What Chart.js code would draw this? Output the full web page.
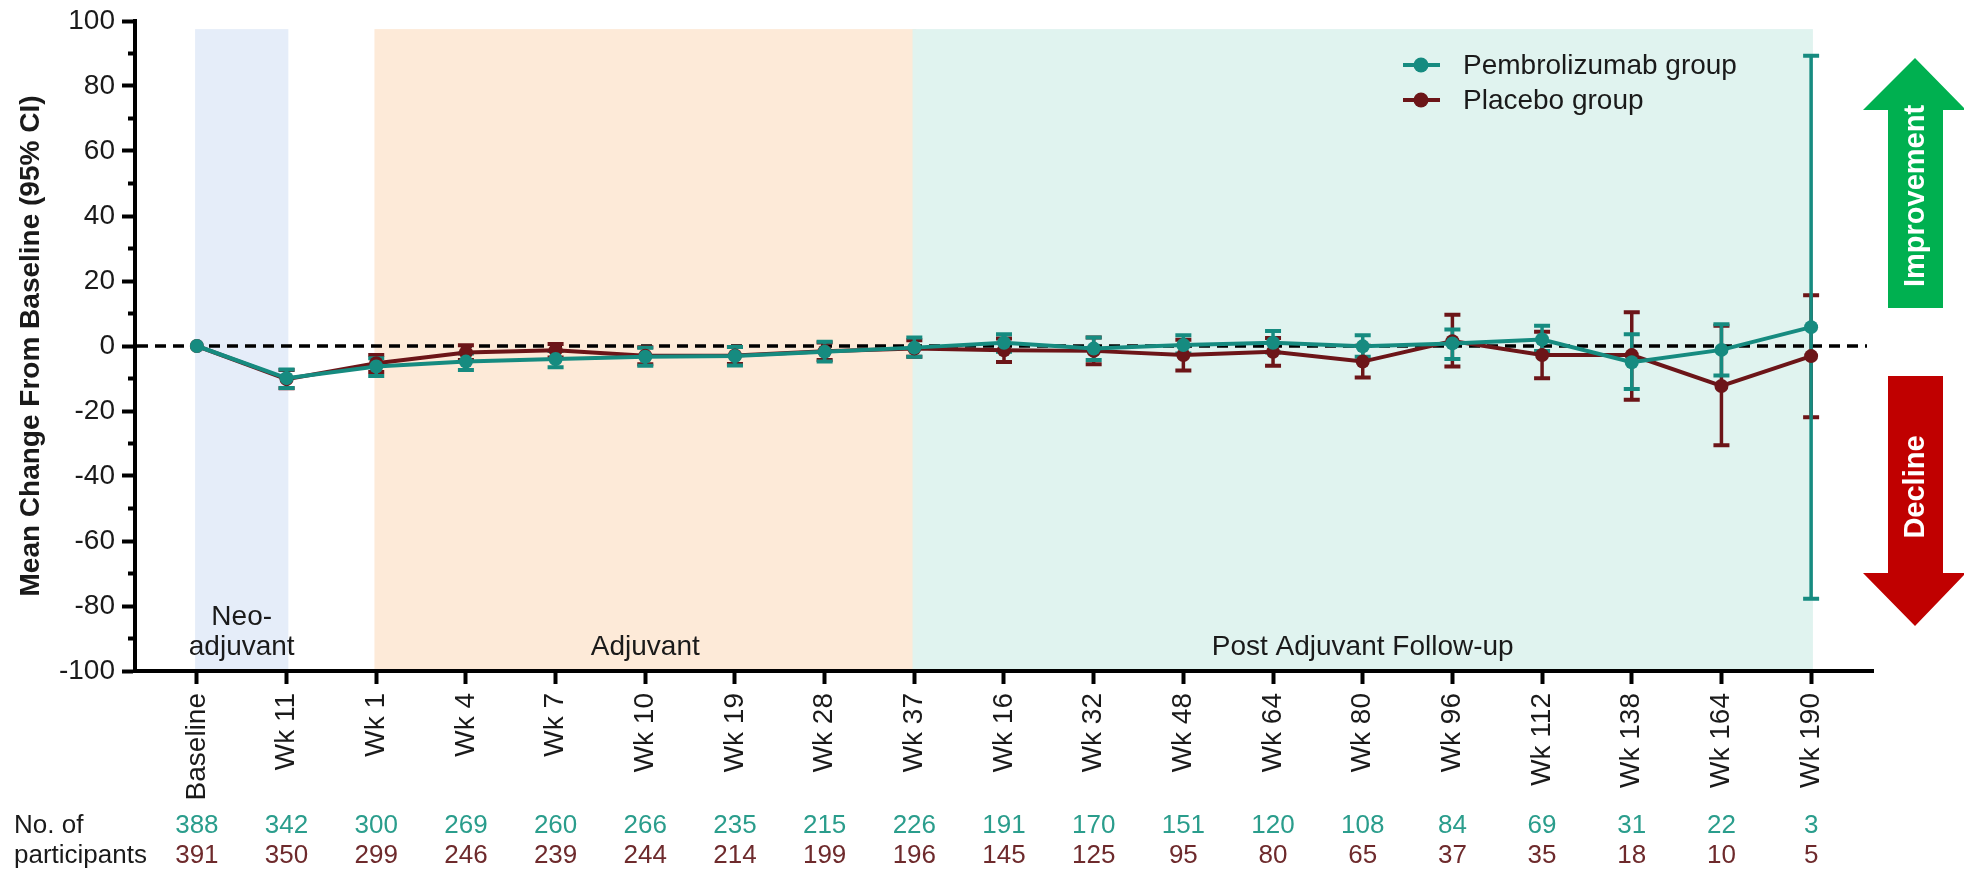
<!DOCTYPE html>
<html>
<head>
<meta charset="utf-8">
<title>Mean change from baseline</title>
<script src="https://cdn.jsdelivr.net/npm/chart.js@4.4.1/dist/chart.umd.min.js"></script>
<style>
  html, body { margin: 0; padding: 0; background: #fff; }
  #wrap { width: 1964px; height: 873px; }
</style>
</head>
<body>
<div id="wrap"><canvas id="chart" width="1964" height="873"></canvas></div>
<script>
// time points along the x axis
const weekLabels = ["Baseline", "Wk 11", "Wk 1", "Wk 4", "Wk 7", "Wk 10", "Wk 19", "Wk 28", "Wk 37",
  "Wk 16", "Wk 32", "Wk 48", "Wk 64", "Wk 80", "Wk 96", "Wk 112", "Wk 138", "Wk 164", "Wk 190"];

// Pembrolizumab group: mean change and 95% CI
const pembroMean = [0, -9.9, -6.3, -4.8, -4.0, -3.3, -3.1, -1.8, -0.5, 1.0, -0.8, 0.3, 1.0, -0.1, 0.8, 2.0, -5.0, -1.2, 5.8];
const pembroLow  = [0, -12.9, -9.2, -7.4, -6.5, -6.1, -6.0, -4.8, -3.3, -1.8, -4.3, -2.3, -2.0, -3.3, -4.0, -1.5, -13.2, -9.1, -77.8];
const pembroHigh = [0, -7.2, -3.8, -2.3, -1.5, -0.5, -0.3, 1.3, 2.6, 3.6, 2.6, 3.3, 4.6, 3.3, 5.1, 6.2, 3.6, 6.7, 89.3];

// Placebo group: mean change and 95% CI
const placeboMean = [0, -10.2, -5.3, -2.0, -1.3, -3.0, -2.9, -1.6, -0.8, -1.3, -1.5, -2.8, -1.8, -4.8, 1.5, -2.8, -2.8, -12.3, -3.1];
const placeboLow  = [0, -13.0, -8.0, -4.3, -3.5, -5.6, -5.5, -4.3, -3.3, -4.9, -5.6, -7.5, -6.1, -9.7, -6.3, -9.9, -16.5, -30.5, -21.9];
const placeboHigh = [0, -7.4, -2.8, 0.2, 0.6, -0.4, -0.3, 1.1, 1.8, 2.3, 2.6, 1.9, 2.5, 0.1, 9.6, 4.4, 10.4, 6.2, 15.6];

// number of participants at each time point
const nPembro  = [388, 342, 300, 269, 260, 266, 235, 215, 226, 191, 170, 151, 120, 108, 84, 69, 31, 22, 3];
const nPlacebo = [391, 350, 299, 246, 239, 244, 214, 199, 196, 145, 125, 95, 80, 65, 37, 35, 18, 10, 5];

// study phases (start / end index on the x axis)
const phaseNames = [["Neo-", "adjuvant"], ["Adjuvant"], ["Post Adjuvant Follow-up"]];
const phaseStart = [0, 2, 8];
const phaseEnd   = [1, 8, 18];
const phaseColors = ["#e5edf9", "#fdead8", "#e0f3ef"];

const seriesNames = ["Pembrolizumab group", "Placebo group"];

const TEAL = "#168b80";
const MAROON = "#6c1518";
const TEAL_TEXT = "#2a9d8c";
const MAROON_TEXT = "#6e2a2c";
const FONT = '"Liberation Sans", Arial, sans-serif';
const INK = "#1a1a1a";

function points(values) {
  return values.map((v, i) => ({ x: i, y: v }));
}

const backgroundPlugin = {
  id: "phases",
  beforeDraw(chart) {
    const ctx = chart.ctx;
    const x = chart.scales.x;
    const y = chart.scales.y;
    const area = chart.chartArea;
    ctx.save();
    for (let i = 0; i < phaseNames.length; i++) {
      const left = x.getPixelForValue(phaseStart[i] - 0.02);
      const right = x.getPixelForValue(phaseEnd[i] + 0.02);
      const top = y.getPixelForValue(97.5);
      ctx.fillStyle = phaseColors[i];
      ctx.fillRect(left, top, right - left, area.bottom - top);
    }
    ctx.restore();
  },
  beforeDatasetsDraw(chart) {
    const ctx = chart.ctx;
    const x = chart.scales.x;
    const y = chart.scales.y;
    const area = chart.chartArea;
    ctx.save();

    // phase names
    ctx.fillStyle = INK;
    ctx.font = "28px " + FONT;
    ctx.textAlign = "center";
    ctx.textBaseline = "alphabetic";
    for (let i = 0; i < phaseNames.length; i++) {
      const cx = x.getPixelForValue((phaseStart[i] + phaseEnd[i]) / 2);
      const lines = phaseNames[i];
      lines.forEach((line, j) => {
        ctx.fillText(line, cx, 655 - (lines.length - 1 - j) * 30);
      });
    }

    // dashed reference line at zero
    const y0 = y.getPixelForValue(0);
    ctx.strokeStyle = "#000";
    ctx.lineWidth = 3.5;
    ctx.setLineDash([11, 7]);
    ctx.beginPath();
    ctx.moveTo(area.left + 2, y0);
    ctx.lineTo(area.right - 6, y0);
    ctx.stroke();
    ctx.setLineDash([]);

    // error bars, placebo first so pembrolizumab sits on top
    drawErrorBars(ctx, x, y, placeboLow, placeboHigh, MAROON);
    drawErrorBars(ctx, x, y, pembroLow, pembroHigh, TEAL);
    ctx.restore();
  },
  afterDraw(chart) {
    const ctx = chart.ctx;
    const x = chart.scales.x;
    const y = chart.scales.y;
    ctx.save();

    // minor ticks on the y axis
    ctx.strokeStyle = "#000";
    ctx.lineWidth = 4;
    for (let v = -90; v <= 90; v += 20) {
      const py = y.getPixelForValue(v);
      ctx.beginPath();
      ctx.moveTo(chart.chartArea.left - 7, py);
      ctx.lineTo(chart.chartArea.left, py);
      ctx.stroke();
    }

    // participants table
    ctx.font = "26px " + FONT;
    ctx.textBaseline = "middle";
    ctx.textAlign = "left";
    ctx.fillStyle = INK;
    ctx.fillText("No. of", 14, 826);
    ctx.fillText("participants", 14, 856);
    ctx.textAlign = "center";
    for (let i = 0; i < weekLabels.length; i++) {
      const px = x.getPixelForValue(i);
      ctx.fillStyle = TEAL_TEXT;
      ctx.fillText(String(nPembro[i]), px, 826);
      ctx.fillStyle = MAROON_TEXT;
      ctx.fillText(String(nPlacebo[i]), px, 856);
    }

    // legend
    const legendColors = [TEAL, MAROON];
    for (let i = 0; i < seriesNames.length; i++) {
      const ly = 65 + i * 35;
      ctx.strokeStyle = legendColors[i];
      ctx.fillStyle = legendColors[i];
      ctx.lineWidth = 4;
      ctx.beginPath();
      ctx.moveTo(1403, ly);
      ctx.lineTo(1440, ly);
      ctx.stroke();
      ctx.beginPath();
      ctx.arc(1421, ly, 7.5, 0, Math.PI * 2);
      ctx.fill();
      ctx.fillStyle = INK;
      ctx.font = "28px " + FONT;
      ctx.textAlign = "left";
      ctx.textBaseline = "middle";
      ctx.fillText(seriesNames[i], 1463, ly + 1);
    }

    // improvement / decline arrows
    drawArrow(ctx, "#00b050", "Improvement", 1915, 58, 110, 308, 196);
    drawArrow(ctx, "#c00000", "Decline", 1915, 626, 573, 376, 487);
    ctx.restore();
  }
};

function drawErrorBars(ctx, x, y, low, high, color) {
  ctx.strokeStyle = color;
  for (let i = 0; i < low.length; i++) {
    if (low[i] === high[i]) continue;
    const px = x.getPixelForValue(i);
    const yl = y.getPixelForValue(low[i]);
    const yh = y.getPixelForValue(high[i]);
    ctx.lineWidth = 3.5;
    ctx.beginPath();
    ctx.moveTo(px, yl);
    ctx.lineTo(px, yh);
    ctx.stroke();
    ctx.lineWidth = 4;
    ctx.beginPath();
    ctx.moveTo(px - 8, yl);
    ctx.lineTo(px + 8, yl);
    ctx.moveTo(px - 8, yh);
    ctx.lineTo(px + 8, yh);
    ctx.stroke();
  }
}

// tip: apex y, base: y where the head meets the shaft, end: far end of the shaft
function drawArrow(ctx, color, label, cx, tip, base, end, textY) {
  ctx.fillStyle = color;
  ctx.beginPath();
  ctx.moveTo(cx, tip);
  ctx.lineTo(cx + 51, base);
  ctx.lineTo(cx + 28, base);
  ctx.lineTo(cx + 28, end);
  ctx.lineTo(cx - 27, end);
  ctx.lineTo(cx - 27, base);
  ctx.lineTo(cx - 52, base);
  ctx.closePath();
  ctx.fill();

  ctx.save();
  ctx.translate(cx + 1, textY);
  ctx.rotate(-Math.PI / 2);
  ctx.fillStyle = "#fff";
  ctx.font = "bold 29px " + FONT;
  ctx.textAlign = "center";
  ctx.textBaseline = "middle";
  ctx.fillText(label, 0, 0);
  ctx.restore();
}

const ctx = document.getElementById("chart").getContext("2d");
new Chart(ctx, {
  type: "line",
  data: {
    datasets: [
      {
        label: seriesNames[0],
        data: points(pembroMean),
        borderColor: TEAL,
        backgroundColor: TEAL,
        borderWidth: 4,
        pointRadius: 7,
        pointBorderWidth: 0,
        pointBackgroundColor: TEAL,
        tension: 0
      },
      {
        label: seriesNames[1],
        data: points(placeboMean),
        borderColor: MAROON,
        backgroundColor: MAROON,
        borderWidth: 4,
        pointRadius: 7,
        pointBorderWidth: 0,
        pointBackgroundColor: MAROON,
        tension: 0
      }
    ]
  },
  options: {
    responsive: false,
    animation: false,
    devicePixelRatio: 1,
    layout: { padding: { top: 14, right: 91, left: 0, bottom: 0 } },
    plugins: {
      legend: { display: false },
      tooltip: { enabled: false }
    },
    scales: {
      x: {
        type: "linear",
        min: -0.69,
        max: 18.69,
        afterFit(scale) { scale.height = 202; },
        border: { display: true, color: "#000", width: 4 },
        grid: { drawOnChartArea: false, drawTicks: true, tickLength: 13, tickWidth: 4, tickColor: "#000" },
        ticks: {
          stepSize: 1,
          includeBounds: false,
          autoSkip: false,
          minRotation: 90,
          maxRotation: 90,
          padding: 9,
          color: INK,
          font: { family: FONT, size: 28 },
          callback: (v) => weekLabels[v] || ""
        }
      },
      y: {
        min: -100,
        max: 100,
        afterFit(scale) { scale.width = 135; },
        border: { display: true, color: "#000", width: 4 },
        grid: {
          drawOnChartArea: false,
          drawTicks: true,
          tickLength: 13,
          tickWidth: 4,
          tickColor: (c) => (c.tick && c.tick.value % 20 === 0 ? "#000" : "rgba(0,0,0,0)")
        },
        ticks: {
          stepSize: 10,
          padding: 7,
          color: INK,
          font: { family: FONT, size: 28, lineHeight: 1 },
          callback: (v) => (v % 20 === 0 ? String(v) : "")
        },
        title: {
          display: true,
          text: "Mean Change From Baseline (95% CI)",
          color: INK,
          font: { family: FONT, size: 28, weight: "bold" },
          padding: { top: 14, bottom: 0 }
        }
      }
    }
  },
  plugins: [backgroundPlugin]
});
</script>
</body>
</html>
